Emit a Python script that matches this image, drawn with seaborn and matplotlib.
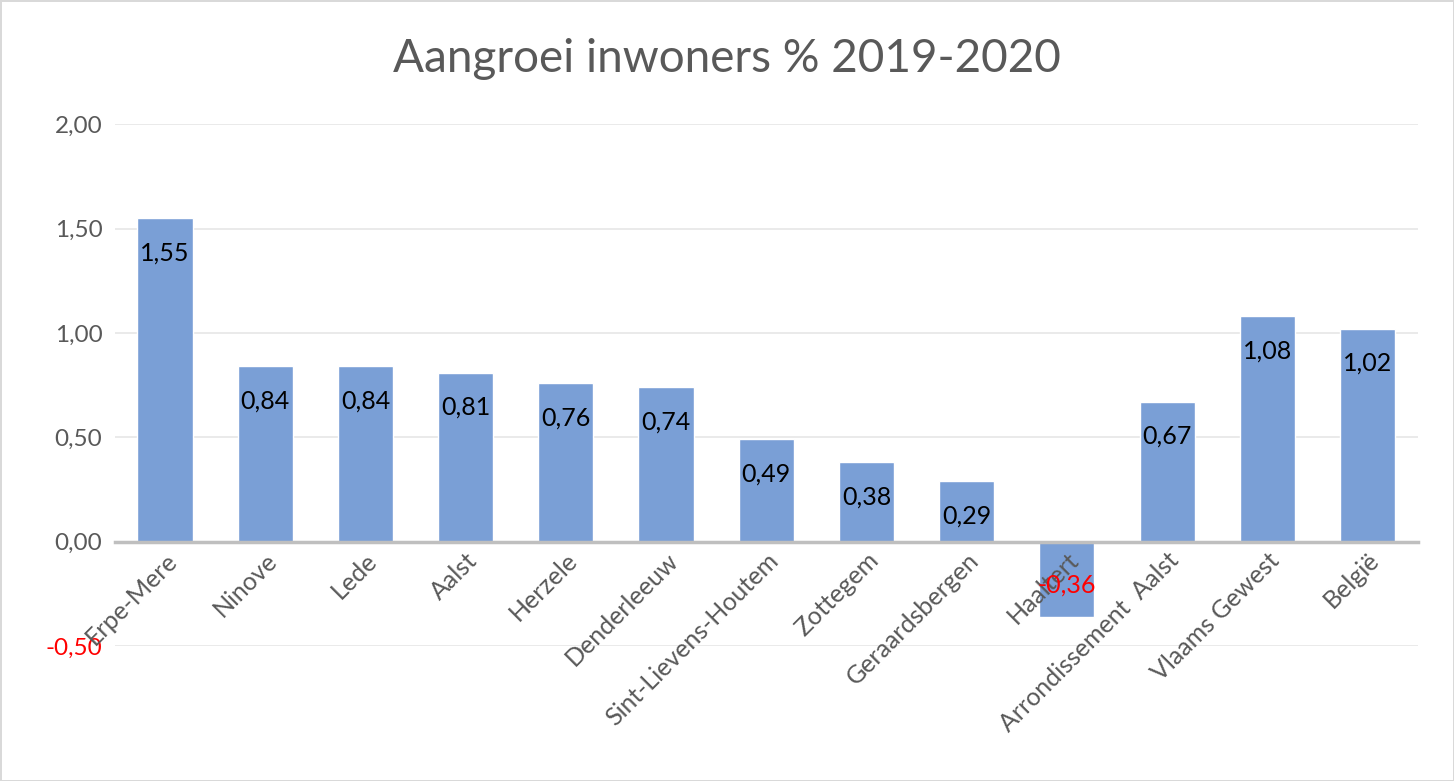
import numpy as np
import pandas as pd
import matplotlib.pyplot as plt
import seaborn as sns

categories = ['Erpe-Mere', 'Ninove', 'Lede', 'Aalst', 'Herzele', 'Denderleeuw',
              'Sint-Lievens-Houtem', 'Zottegem', 'Geraardsbergen', 'Haaltert',
              'Arrondissement  Aalst', 'Vlaams Gewest', 'België']
values = [1.55, 0.84, 0.84, 0.81, 0.76, 0.74, 0.49, 0.38, 0.29, -0.36, 0.67, 1.08, 1.02]
yticks = [-0.5, 0.0, 0.5, 1.0, 1.5, 2.0]
ytick_labels = ['-0,50', '0,00', '0,50', '1,00', '1,50', '2,00']

df = pd.DataFrame({'gemeente': categories, 'aangroei': values})

sns.set_style('white')
plt.rcParams['font.family'] = ['Lato', 'DejaVu Sans']

fig = plt.figure(figsize=(14.54, 7.81), dpi=100)
fig.patch.set_edgecolor('#d9d9d9')
fig.patch.set_linewidth(2)
ax = fig.add_axes([0.079, 0.173, 0.896, 0.668])

sns.barplot(data=df, x='gemeente', y='aangroei', color='#7a9fd6', saturation=1,
            width=0.55, ax=ax, zorder=2)

ax.set_xlim(-0.5, len(categories) - 0.5)
ax.set_ylim(-0.5, 2.0)
ax.set_yticks(yticks)
ax.set_yticklabels(ytick_labels, fontsize=17.5, color='#595959')
for lbl in ax.get_yticklabels():
    if lbl.get_text().startswith('-'):
        lbl.set_color('red')
ax.tick_params(axis='y', length=0, pad=9)
ax.yaxis.grid(True, color='#e6e6e6', linewidth=1.2, zorder=0)
ax.set_axisbelow(True)

for s in ['top', 'right', 'left']:
    ax.spines[s].set_visible(False)
ax.spines['bottom'].set_position(('data', 0))
ax.spines['bottom'].set_color('#bfbfbf')
ax.spines['bottom'].set_linewidth(2.5)
ax.spines['bottom'].set_zorder(3)
ax.xaxis.set_zorder(5)
ax.tick_params(axis='x', length=0, pad=5)
plt.setp(ax.get_xticklabels(), rotation=45, ha='right', rotation_mode='anchor',
         fontsize=18, color='#595959')
ax.set_xlabel('')
ax.set_ylabel('')

for i, v in enumerate(values):
    txt = f'{v:.2f}'.replace('.', ',')
    off = -25 if v >= 0 else 23
    ax.annotate(txt, (i, v), xytext=(0, off), textcoords='offset points',
                ha='center', va='center', fontsize=18,
                color='black' if v >= 0 else 'red', zorder=6)

fig.text(0.5, 0.924, 'Aangroei inwoners % 2019-2020', ha='center', va='center',
         fontsize=33, color='#595959')

fig.savefig('out.png', dpi=100)
